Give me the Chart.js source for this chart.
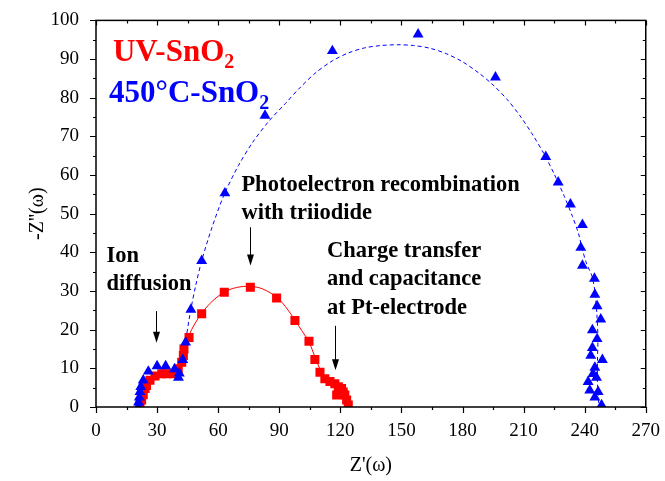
<!DOCTYPE html>
<html lang="en">
<head>
  <meta charset="UTF-8">
  <title>Nyquist plot - SnO2</title>
  <script src="https://cdn.jsdelivr.net/npm/chart.js"></script>
  <style>
    body { margin: 0; background: #fff; }
  </style>
</head>
<body>
  <canvas id="eisChart" width="665" height="481"></canvas>

  <script>
    // Z' (ohm) and -Z'' (ohm) of the measured points
    const uvRe = [21.6, 22.4, 23.2, 24.1, 24.8, 26.5, 29.0, 32.3, 34.7, 37.9, 40.4, 42.1, 42.9, 43.2, 45.7,
      51.9, 63.0, 75.8, 88.7, 97.7, 104.6, 107.5, 110.0, 112.4, 114.9, 117.3, 119.0, 120.6, 121.4, 122.2,
      118.2, 123.1, 123.9];
    const uvIm = [0.5, 1.8, 3.2, 4.8, 5.6, 6.9, 8.0, 8.6, 8.6, 8.6, 9.9, 11.6, 13.3, 15.0, 18.0,
      24.1, 29.7, 31.0, 28.2, 22.4, 17.0, 12.3, 9.0, 7.3, 6.6, 6.0, 5.2, 4.8, 3.9, 3.1,
      3.1, 1.8, 0.5];

    const htRe = [20.8, 20.9, 21.3, 21.6, 22.0, 23.2, 25.7, 30.0, 34.2, 38.6, 40.9, 40.5, 42.6, 44.0, 46.6,
      51.9, 63.3, 83.0, 116.1, 158.2, 196.2, 220.9, 227.0, 233.0, 238.9, 238.1, 238.9, 244.8, 245.0, 246.1,
      247.9, 243.8, 246.1, 243.8, 243.0, 248.7, 245.0, 244.1, 245.8, 241.7, 242.5, 246.6, 245.0, 248.3];
    const htIm = [0.1, 1.2, 2.5, 3.9, 5.2, 6.9, 9.2, 10.6, 10.6, 9.8, 8.7, 7.6, 12.2, 16.7, 25.2,
      37.8, 55.3, 75.4, 92.1, 96.4, 85.3, 64.7, 58.1, 52.4, 47.1, 41.2, 36.6, 33.2, 29.1, 26.1,
      22.7, 19.9, 17.6, 15.3, 13.3, 12.2, 10.2, 8.6, 7.6, 6.5, 4.3, 3.9, 2.5, 0.5];

    // fitted curves
    const uvFitRe = [42.0, 43.5, 45.7, 48.5, 52.0, 57.0, 63.0, 69.0, 75.8, 82.0, 88.7, 93.0, 97.7, 101.0,
      104.6, 107.5, 110.0, 112.4, 115.0, 118.0, 120.6, 122.2, 123.5, 124.0];
    const uvFitIm = [12.0, 15.5, 18.6, 21.5, 24.3, 27.3, 29.7, 30.9, 31.2, 30.5, 28.4, 26.0, 22.5, 19.8,
      16.8, 13.0, 9.8, 7.8, 6.6, 5.8, 4.8, 3.2, 1.5, 0.5];

    const htFitRe = [42.5, 44.0, 46.5, 49.0, 52.0, 57.0, 63.0, 70.0, 77.0, 85.0, 93.0, 100.0, 108.0, 116.0,
      124.0, 132.0, 140.0, 148.0, 156.0, 164.0, 172.0, 180.0, 188.0, 195.0, 202.0, 208.0, 214.0, 220.0,
      225.0, 230.0, 234.0, 237.0, 239.0, 241.0, 243.5, 245.0, 246.0, 246.5, 246.3, 246.3, 247.0];
    const htFitIm = [12.0, 17.0, 25.0, 31.5, 38.0, 46.5, 55.0, 62.5, 68.5, 74.0, 78.5, 82.5, 86.5, 89.5,
      91.6, 92.9, 93.5, 93.7, 93.5, 92.8, 91.4, 89.3, 86.4, 83.3, 79.5, 75.5, 70.8, 65.5,
      60.3, 54.5, 49.3, 44.8, 40.5, 37.0, 34.0, 30.0, 24.0, 18.0, 12.0, 6.0, 0.0];

    const xTicks = [0, 30, 60, 90, 120, 150, 180, 210, 240, 270];
    const yTicks = [0, 10, 20, 30, 40, 50, 60, 70, 80, 90, 100];

    const RED = '#ff0000';
    const BLUE = '#0000ff';
    const SERIF = '"Liberation Serif", "Times New Roman", serif';

    const pts = (xs, ys) => xs.map((v, i) => ({ x: v, y: ys[i] }));

    // frame, ticks, axis titles, labels and arrows
    const decorations = {
      id: 'decorations',
      afterDraw(chart) {
        const { ctx, chartArea: a, scales: { x, y } } = chart;
        const px = v => x.getPixelForValue(v);
        const py = v => y.getPixelForValue(v);
        ctx.save();

        ctx.strokeStyle = '#000';
        ctx.lineWidth = 1.5;
        ctx.strokeRect(a.left, a.top, a.right - a.left, a.bottom - a.top);

        ctx.lineWidth = 1.2;
        ctx.beginPath();
        xTicks.forEach((t, i) => {
          const p = Math.round(px(t)) + 0.5;
          ctx.moveTo(p, a.bottom); ctx.lineTo(p, a.bottom + 6);
          ctx.moveTo(p, a.top); ctx.lineTo(p, a.top + 5);
          if (i < xTicks.length - 1) {
            const m = Math.round(px(t + 15)) + 0.5;
            ctx.moveTo(m, a.bottom); ctx.lineTo(m, a.bottom + 3);
            ctx.moveTo(m, a.top); ctx.lineTo(m, a.top + 3);
          }
        });
        yTicks.forEach((t, i) => {
          const p = Math.round(py(t)) + 0.5;
          ctx.moveTo(a.left, p); ctx.lineTo(a.left - 6, p);
          ctx.moveTo(a.right, p); ctx.lineTo(a.right - 5, p);
          if (i < yTicks.length - 1) {
            const m = Math.round(py(t + 5)) + 0.5;
            ctx.moveTo(a.left, m); ctx.lineTo(a.left - 3, m);
            ctx.moveTo(a.right, m); ctx.lineTo(a.right - 3, m);
          }
        });
        ctx.stroke();

        // axis titles
        ctx.fillStyle = '#000';
        ctx.font = '20px ' + SERIF;
        ctx.textAlign = 'center';
        ctx.textBaseline = 'middle';
        ctx.fillText("Z'(\u03c9)", (a.left + a.right) / 2, 466);
        ctx.save();
        ctx.translate(38, (a.top + a.bottom) / 2);
        ctx.rotate(-Math.PI / 2);
        ctx.fillText("-Z''(\u03c9)", 0, 0);
        ctx.restore();

        // series names with subscript
        const chem = (txt, sub, vx, vy, color) => {
          ctx.fillStyle = color;
          ctx.textAlign = 'left';
          ctx.textBaseline = 'alphabetic';
          ctx.font = 'bold 31px ' + SERIF;
          ctx.fillText(txt, px(vx), py(vy));
          const w = ctx.measureText(txt).width;
          ctx.font = 'bold 20px ' + SERIF;
          ctx.fillText(sub, px(vx) + w, py(vy) + 7);
        };
        chem('UV-SnO', '2', 8.3, 89.5, RED);
        chem('450\u00b0C-SnO', '2', 6.4, 78.8, BLUE);

        // process notes
        ctx.fillStyle = '#000';
        ctx.font = 'bold 22.5px ' + SERIF;
        const note = (lines, vx, vy) => {
          lines.forEach((s, i) => ctx.fillText(s, px(vx), py(vy) + i * 28.5));
        };
        note(['Photoelectron recombination', 'with triiodide'], 71.4, 56.0);
        note(['Ion', 'diffusion'], 5.15, 37.6);
        note(['Charge transfer', 'and capacitance', 'at Pt-electrode'], 113.4, 38.9);

        const arrow = (vx, y0, y1) => {
          const xx = Math.round(px(vx)) + 0.5;
          const top = py(y0), tip = py(y1);
          ctx.strokeStyle = '#000';
          ctx.lineWidth = 1;
          ctx.beginPath();
          ctx.moveTo(xx, top); ctx.lineTo(xx, tip - 8);
          ctx.stroke();
          ctx.beginPath();
          ctx.moveTo(xx - 3.5, tip - 11);
          ctx.lineTo(xx + 3.5, tip - 11);
          ctx.lineTo(xx, tip);
          ctx.closePath();
          ctx.fill();
        };
        arrow(29.7, 24.8, 16.6);
        arrow(75.4, 46.5, 36.6);
        arrow(117.6, 21.0, 9.5);

        ctx.restore();
      }
    };

    new Chart(document.getElementById('eisChart'), {
      type: 'scatter',
      data: {
        datasets: [
          {
            label: '450°C-SnO2',
            data: pts(htRe, htIm),
            pointStyle: 'triangle',
            pointRadius: 6.3,
            backgroundColor: BLUE,
            borderColor: BLUE,
            borderWidth: 0,
            showLine: false
          },
          {
            label: 'UV-SnO2',
            data: pts(uvRe, uvIm),
            pointStyle: 'rect',
            pointRadius: 6.4,
            backgroundColor: RED,
            borderColor: RED,
            borderWidth: 0,
            showLine: false
          },
          {
            label: 'UV-SnO2 fit',
            data: pts(uvFitRe, uvFitIm),
            showLine: true,
            pointRadius: 0,
            borderColor: RED,
            borderWidth: 1,
            tension: 0.35
          },
          {
            label: '450°C-SnO2 fit',
            data: pts(htFitRe, htFitIm),
            showLine: true,
            pointRadius: 0,
            borderColor: BLUE,
            borderWidth: 1,
            borderDash: [4, 3],
            tension: 0.3
          }
        ]
      },
      options: {
        responsive: false,
        animation: false,
        devicePixelRatio: 1,
        layout: { padding: { top: 13, right: 13, left: 0, bottom: 0 } },
        plugins: {
          legend: { display: false },
          tooltip: { enabled: false }
        },
        scales: {
          x: {
            type: 'linear',
            min: 0,
            max: 270,
            afterBuildTicks: s => { s.ticks = xTicks.map(v => ({ value: v })); },
            afterFit: s => { s.height = 74; },
            grid: { display: false },
            border: { display: false },
            ticks: {
              color: '#000',
              padding: 5,
              maxRotation: 0,
              font: { family: SERIF, size: 19 }
            }
          },
          y: {
            type: 'linear',
            min: 0,
            max: 100,
            afterBuildTicks: s => { s.ticks = yTicks.map(v => ({ value: v })); },
            afterFit: s => { s.width = 96; },
            grid: { display: false },
            border: { display: false },
            ticks: {
              color: '#000',
              padding: 9,
              font: { family: SERIF, size: 19 }
            }
          }
        }
      },
      plugins: [decorations]
    });
  </script>
</body>
</html>
